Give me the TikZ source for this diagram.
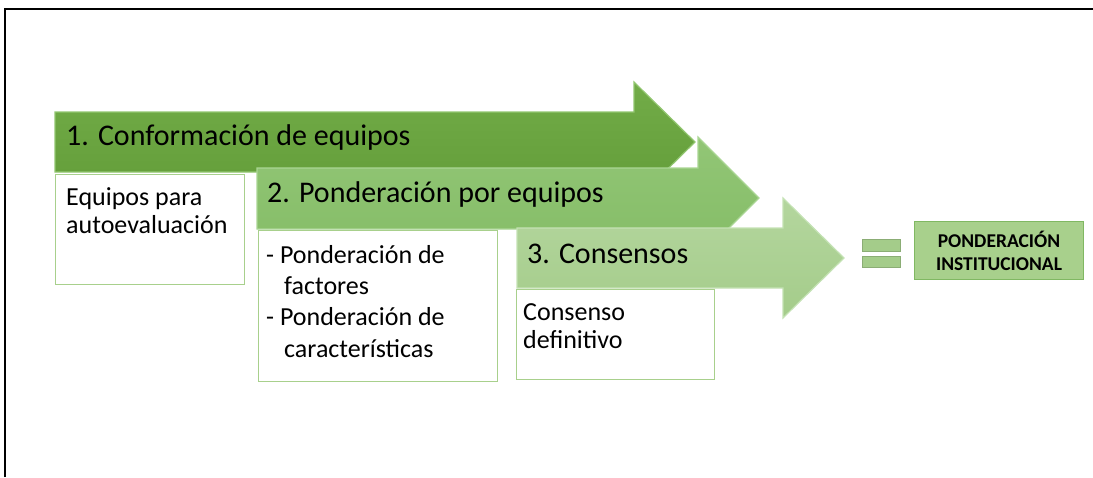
\documentclass[tikz,border=0pt]{standalone}
\usepackage{fontspec}
\setmainfont{Carlito}
\definecolor{greenone}{RGB}{98,156,56}
\definecolor{greenonetop}{RGB}{114,172,72}
\definecolor{greenoneedge}{RGB}{146,198,112}
\definecolor{greentwo}{RGB}{132,188,102}
\definecolor{greentwotop}{RGB}{146,198,118}
\definecolor{greentwoedge}{RGB}{170,214,148}
\definecolor{greenthree}{RGB}{164,204,138}
\definecolor{greenthreetop}{RGB}{180,214,158}
\definecolor{greenthreeedge}{RGB}{196,226,180}
\definecolor{boxline}{RGB}{168,208,140}
\definecolor{resultfill}{RGB}{168,208,140}
\definecolor{resultline}{RGB}{128,184,98}

\begin{document}
\begin{tikzpicture}[x=1pt, y=-1pt,
  stepbox/.style={draw=boxline, fill=white, line width=1pt, anchor=north west, inner sep=0pt},
  headtext/.style={anchor=base west, inner sep=0pt, font=\fontsize{30}{34}\selectfont},
  bodytext/.style={anchor=base west, inner sep=0pt, align=left, font=\fontsize{26}{28}\selectfont},
  bar/.style={fill=greenthree, draw=greenthree!85!black, line width=0.6pt}]
  \useasboundingbox (0,0) rectangle (1093,477);
  \draw[line width=2pt] (5,477) -- (5,9) -- (1093,9);

  % step arrows
  \shadedraw[top color=greenonetop, bottom color=greenone, draw=greenoneedge, line width=1.2pt]
    (55,112) -- (634,112) -- (634,82) -- (695,142) -- (634,202) -- (634,172) -- (55,172) -- cycle;
  \node[headtext] (s1) at (66,145) {1. Conformación de equipos};
  \node[stepbox, minimum width=189, minimum height=110] (d1) at (55,174) {};
  \node[bodytext] (t1) at (66,233) {Equipos para\\autoevaluación};

  \shadedraw[top color=greentwotop, bottom color=greentwo, draw=greentwoedge, line width=1.2pt]
    (257,168) -- (698,168) -- (698,137) -- (759,198) -- (698,259) -- (698,229) -- (257,229) -- cycle;
  \node[headtext] (s2) at (267,202) {2. Ponderación por equipos};
  \node[stepbox, minimum width=239, minimum height=151] (d2) at (258,230) {};
  \node[bodytext, font=\fontsize{26}{31.3}\selectfont] (t2) at (266,357)
    {- Ponderación de\\\hspace*{18pt}factores\\- Ponderación de\\\hspace*{18pt}características};

  \shadedraw[top color=greenthreetop, bottom color=greenthree, draw=greenthreeedge, line width=1.2pt]
    (517,228) -- (783,228) -- (783,198) -- (844,258) -- (783,318) -- (783,288) -- (517,288) -- cycle;
  \node[headtext] (s3) at (527,263) {3. Consensos};
  \node[stepbox, minimum width=198, minimum height=90] (d3) at (516,289) {};
  \node[bodytext] (t3) at (523,348) {Consenso\\definitivo};

  % result
  \node[bar, minimum width=38, minimum height=12, anchor=north west, inner sep=0pt] (e1) at (862,239) {};
  \node[bar, minimum width=38, minimum height=11, anchor=north west, inner sep=0pt] (e2) at (862,256) {};
  \node[draw=resultline, fill=resultfill, line width=1pt, minimum width=169, minimum height=58,
    anchor=north west, align=center, font=\fontsize{19.5}{23}\selectfont\bfseries] (r) at (914,221)
    {PONDERACIÓN\\INSTITUCIONAL};
\end{tikzpicture}
\end{document}
